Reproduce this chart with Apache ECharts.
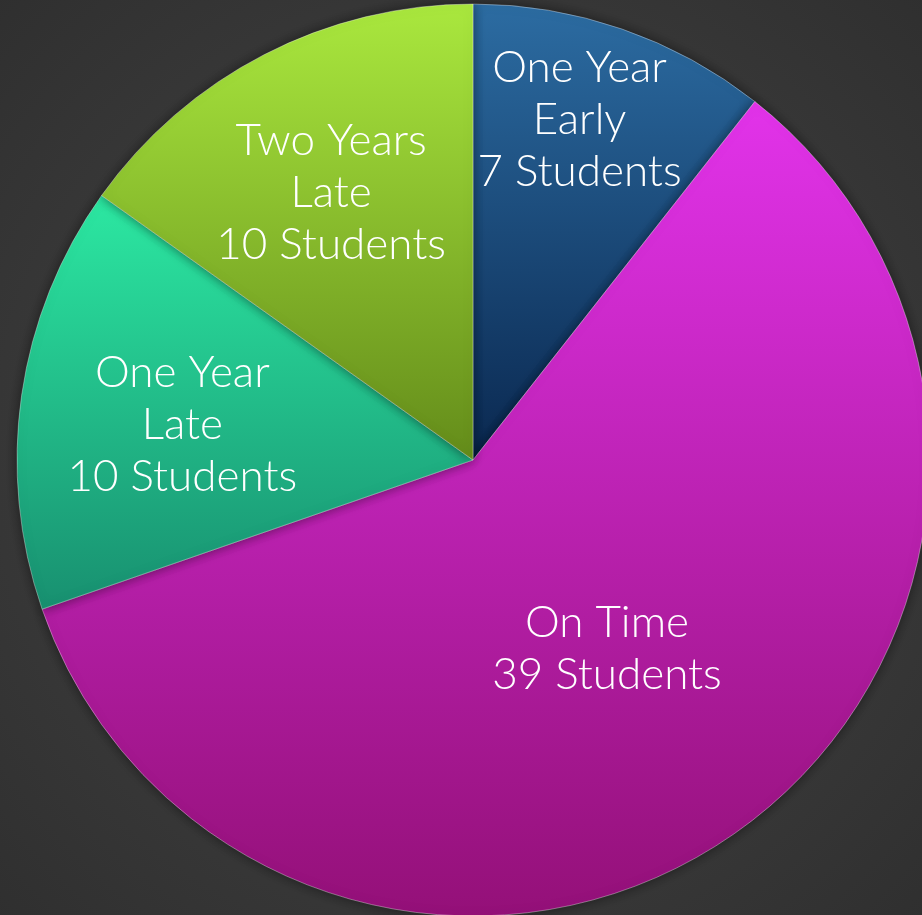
<!DOCTYPE html>
<html><head><meta charset="utf-8">
<script src="https://cdn.jsdelivr.net/npm/echarts@6/dist/echarts.min.js"></script>
<style>html,body{margin:0;padding:0;background:#3a3a3a}#c{width:922px;height:915px}</style>
</head><body><div id="c"></div>
<script>
const categories = ['One Year\nEarly', 'On Time', 'One Year\nLate', 'Two Years\nLate'];
const values = [7, 39, 10, 10];
const gradTop = ['#2c6ca2', '#e233ea', '#2ce8a2', '#aae83e'];
const gradBottom = ['#0a2850', '#941078', '#189070', '#648c1a'];
const labelOffsets = [[31, -122], [0, 1], [-62, -2], [-36, -62]];

const chart = echarts.init(document.getElementById('c'));
chart.setOption({
  backgroundColor: {type: 'radial', x: 0.5, y: 0.5, r: 0.75,
    colorStops: [{offset: 0, color: '#474747'}, {offset: 1, color: '#2e2e2e'}]},
  series: [{
    type: 'pie',
    center: [473, 460],
    radius: [0, 456],
    startAngle: 90,
    clockwise: true,
    silent: true,
    animation: false,
    label: {
      show: true, position: 'inside', color: '#ffffff',
      fontFamily: 'Lato', fontWeight: 300, fontSize: 44, lineHeight: 52,
      formatter: p => p.name + '\n' + p.value + ' Students'
    },
    labelLine: {show: false},
    itemStyle: {borderColor: 'rgba(255,255,255,0.35)', borderWidth: 1,
      shadowBlur: 12, shadowColor: 'rgba(0,0,0,0.5)'},
    data: categories.map((c, i) => ({
      name: c, value: values[i],
      label: {offset: labelOffsets[i]},
      itemStyle: {color: {type: 'linear', x: 0, y: 0, x2: 0, y2: 1,
        colorStops: [{offset: 0, color: gradTop[i]}, {offset: 1, color: gradBottom[i]}]}}
    }))
  }]
});
</script></body></html>
